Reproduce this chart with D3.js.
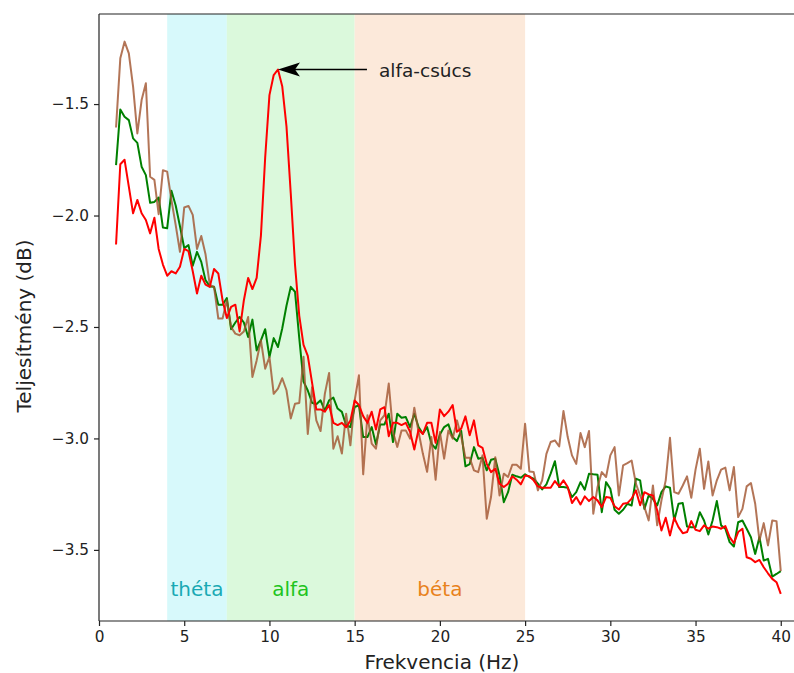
<!DOCTYPE html>
<html>
<head>
<meta charset="utf-8">
<script src="https://cdn.jsdelivr.net/npm/d3@7"></script>
<style>
  body { margin: 0; background: #fff; }
  svg { display: block; font-family: "DejaVu Sans", sans-serif; }
</style>
</head>
<body>
<svg width="794" height="673"></svg>
<script>
// frequency grid (Hz)
var freqs = [
  1,1.25,1.5,1.75,2,2.25,2.5,2.75, 3,3.25,3.5,3.75,4,4.25,4.5,4.75,
  5,5.25,5.5,5.75,6,6.25,6.5,6.75, 7,7.25,7.5,7.75,8,8.25,8.5,8.75,
  9,9.25,9.5,9.75,10,10.25,10.5,10.75, 11,11.25,11.5,11.75,12,12.25,12.5,12.75,
  13,13.25,13.5,13.75,14,14.25,14.5,14.75, 15,15.25,15.5,15.75,16,16.25,16.5,16.75,
  17,17.25,17.5,17.75,18,18.25,18.5,18.75, 19,19.25,19.5,19.75,20,20.25,20.5,20.75,
  21,21.25,21.5,21.75,22,22.25,22.5,22.75, 23,23.25,23.5,23.75,24,24.25,24.5,24.75,
  25,25.25,25.5,25.75,26,26.25,26.5,26.75, 27,27.25,27.5,27.75,28,28.25,28.5,28.75,
  29,29.25,29.5,29.75,30,30.25,30.5,30.75, 31,31.25,31.5,31.75,32,32.25,32.5,32.75,
  33,33.25,33.5,33.75,34,34.25,34.5,34.75, 35,35.25,35.5,35.75,36,36.25,36.5,36.75,
  37,37.25,37.5,37.75,38,38.25,38.5,38.75, 39,39.25,39.5,39.75,40
];

var redVals = [
  -2.13,-1.77,-1.75,-1.87,-1.99,-1.93,-1.99,-2.02,
  -2.08,-2.01,-2.15,-2.22,-2.27,-2.25,-2.26,-2.23,
  -2.15,-2.16,-2.25,-2.35,-2.27,-2.31,-2.32,-2.24,
  -2.26,-2.38,-2.46,-2.41,-2.40,-2.52,-2.38,-2.28,
  -2.33,-2.28,-2.09,-1.74,-1.46,-1.37,-1.345,-1.42,
  -1.60,-1.90,-2.22,-2.45,-2.58,-2.63,-2.75,-2.87,
  -2.87,-2.88,-2.85,-2.93,-2.94,-2.93,-2.95,-2.92,
  -2.83,-2.85,-2.90,-2.93,-2.88,-2.96,-2.87,-2.86,
  -2.99,-2.93,-2.93,-2.94,-2.93,-2.97,-3.05,-2.96,
  -2.98,-2.93,-2.93,-3.02,-2.87,-2.90,-2.88,-2.85,
  -2.97,-2.956,-2.901,-2.986,-2.919,-3.031,-3.042,-3.114,
  -3.151,-3.136,-3.203,-3.218,-3.203,-3.17,-3.185,-3.206,
  -3.166,-3.17,-3.188,-3.215,-3.221,-3.221,-3.221,-3.191,
  -3.215,-3.188,-3.218,-3.29,-3.263,-3.296,-3.26,-3.281,
  -3.263,-3.278,-3.308,-3.263,-3.266,-3.304,-3.319,-3.293,
  -3.29,-3.27,-3.233,-3.30,-3.241,-3.251,-3.256,-3.323,
  -3.413,-3.356,-3.435,-3.356,-3.398,-3.425,-3.42,-3.371,
  -3.41,-3.416,-3.39,-3.405,-3.395,-3.398,-3.405,-3.393,
  -3.443,-3.47,-3.42,-3.405,-3.533,-3.54,-3.555,-3.545,
  -3.578,-3.605,-3.63,-3.645,-3.697
];

var greenVals = [
  -1.774,-1.524,-1.557,-1.572,-1.654,-1.674,-1.781,-1.819,
  -1.943,-1.939,-1.919,-2.054,-2.057,-1.889,-1.955,-2.048,
  -2.146,-2.133,-2.225,-2.163,-2.208,-2.29,-2.318,-2.32,
  -2.40,-2.40,-2.37,-2.51,-2.48,-2.455,-2.48,-2.545,
  -2.467,-2.605,-2.56,-2.51,-2.635,-2.55,-2.59,-2.507,
  -2.405,-2.32,-2.342,-2.55,-2.745,-2.785,-2.84,-2.847,
  -2.829,-2.875,-2.829,-2.817,-2.866,-2.881,-2.941,-2.949,
  -2.859,-2.851,-2.994,-2.994,-2.949,-3.027,-2.937,-2.937,
  -2.889,-3.016,-2.889,-2.907,-2.904,-2.949,-2.889,-2.949,
  -2.979,-2.949,-3.023,-3.046,-2.982,-2.949,-2.937,-2.994,
  -3.012,-2.966,-3.125,-3.115,-3.039,-3.091,-3.087,-3.143,
  -3.096,-3.091,-3.166,-3.286,-3.241,-3.163,-3.17,-3.176,
  -3.161,-3.173,-3.181,-3.203,-3.229,-3.206,-3.158,-3.102,
  -3.218,-3.218,-3.221,-3.263,-3.241,-3.196,-3.23,-3.158,
  -3.161,-3.163,-3.331,-3.196,-3.226,-3.32,-3.338,-3.32,
  -3.293,-3.301,-3.181,-3.188,-3.316,-3.256,-3.271,-3.301,
  -3.241,-3.215,-3.221,-3.368,-3.293,-3.29,-3.395,-3.398,
  -3.398,-3.331,-3.368,-3.431,-3.368,-3.281,-3.39,-3.405,
  -3.465,-3.485,-3.376,-3.368,-3.405,-3.443,-3.518,-3.443,
  -3.548,-3.54,-3.62,-3.608,-3.595
];

var brownVals = [
  -1.605,-1.295,-1.22,-1.273,-1.422,-1.632,-1.482,-1.407,
  -1.826,-1.84,-1.994,-1.797,-1.803,-1.931,-2.043,-2.163,
  -1.964,-1.957,-1.997,-2.15,-2.092,-2.174,-2.311,-2.32,
  -2.462,-2.462,-2.38,-2.50,-2.53,-2.537,-2.52,-2.455,
  -2.724,-2.65,-2.56,-2.687,-2.635,-2.80,-2.777,-2.73,
  -2.784,-2.91,-2.844,-2.841,-2.634,-2.98,-2.77,-2.919,
  -2.967,-2.80,-2.706,-3.046,-2.99,-3.068,-2.889,-3.031,
  -2.829,-2.717,-3.161,-2.896,-3.023,-3.046,-2.919,-2.896,
  -2.754,-2.971,-3.038,-2.964,-2.964,-3.001,-2.862,-2.971,
  -3.068,-3.15,-2.994,-3.185,-2.971,-3.091,-2.964,-3.001,
  -2.919,-2.99,-3.087,-3.087,-3.143,-3.151,-3.076,-3.36,
  -3.263,-3.084,-3.256,-3.158,-3.173,-3.118,-3.118,-3.136,
  -2.934,-3.148,-3.151,-3.233,-3.188,-3.069,-3.016,-3.009,
  -3.036,-2.877,-2.994,-3.076,-3.114,-2.976,-3.039,-2.967,
  -3.338,-3.218,-3.151,-3.173,-3.076,-3.039,-3.256,-3.121,
  -3.111,-3.099,-3.203,-3.256,-3.308,-3.368,-3.211,-3.39,
  -3.278,-3.188,-2.997,-3.241,-3.248,-3.211,-3.17,-3.266,
  -3.14,-3.046,-3.226,-3.103,-3.256,-3.188,-3.14,-3.131,
  -3.233,-3.128,-3.353,-3.316,-3.215,-3.2,-3.293,-3.458,
  -3.38,-3.48,-3.368,-3.371,-3.595
];

// frequency bands
var bandNames = ["théta", "alfa", "béta"];
var bandStart = [4, 7.5, 15];
var bandEnd = [7.5, 15, 25];

var xTicks = [0, 5, 10, 15, 20, 25, 30, 35, 40];
var yTicks = [-3.5, -3.0, -2.5, -2.0, -1.5];

var peakFreq = 10.5, peakVal = -1.345;

var svg = d3.select("svg");
var plotL = 99, plotT = 14, plotB = 621, plotR = 814;

var x = d3.scaleLinear().domain([0, 41.95]).range([plotL, plotR]);
var y = d3.scaleLinear().domain([-3.819, -1.096]).range([plotB, plotT]);

var bandFill = ["#d7f9fb", "#dbf9dc", "#fce9da"];
var bandText = ["#19a9b4", "#20c420", "#e8821c"];

// shaded bands
svg.selectAll("rect.band")
    .data(bandNames)
    .enter()
  .append("rect")
    .attr("class", "band")
    .attr("x", function(d, i) { return x(bandStart[i]); })
    .attr("y", plotT)
    .attr("width", function(d, i) { return x(bandEnd[i]) - x(bandStart[i]); })
    .attr("height", plotB - plotT)
    .style("fill", function(d, i) { return bandFill[i]; });

svg.selectAll("text.bandlabel")
    .data(bandNames)
    .enter()
  .append("text")
    .attr("class", "bandlabel")
    .attr("x", function(d, i) { return x((bandStart[i] + bandEnd[i]) / 2); })
    .attr("y", y(-3.7) + 2)
    .attr("text-anchor", "middle")
    .style("font-size", "20px")
    .style("fill", function(d, i) { return bandText[i]; })
    .text(function(d) { return d; });

// spectra
var series = [
  { vals: greenVals, color: "#008000", op: 1 },
  { vals: brownVals, color: "#a0522d", op: 0.8 },
  { vals: redVals, color: "#ff0000", op: 1 }
];

var line = d3.line()
    .x(function(d) { return x(d[0]); })
    .y(function(d) { return y(d[1]); });

series.forEach(function(s) {
  svg.append("path")
      .datum(freqs.map(function(f, i) { return [f, s.vals[i]]; }))
      .attr("d", line)
      .style("fill", "none")
      .style("stroke", s.color)
      .style("stroke-opacity", s.op)
      .style("stroke-width", 2)
      .style("stroke-linejoin", "round");
});

// axes
var xAxis = svg.append("g")
    .attr("transform", "translate(0," + plotB + ")")
    .call(d3.axisBottom(x).tickValues(xTicks).tickSize(5).tickPadding(5)
      .tickFormat(d3.format("d")));
var yAxis = svg.append("g")
    .attr("transform", "translate(" + plotL + ",0)")
    .call(d3.axisLeft(y).tickValues(yTicks).tickSize(5).tickPadding(5)
      .tickFormat(function(d) { return d3.format(".1f")(d).replace("-", "\u2212"); }));

[xAxis, yAxis].forEach(function(g) {
  g.select(".domain").remove();
  g.selectAll(".tick line").style("stroke", "#222").style("stroke-width", 1.2);
  g.selectAll(".tick text")
    .style("font-family", "DejaVu Sans")
    .style("font-size", "15.3px")
    .style("fill", "#222");
});

// spines
svg.append("line").attr("x1", plotL).attr("x2", plotL).attr("y1", plotT).attr("y2", plotB)
  .style("stroke", "#222").style("stroke-width", 1.2);
svg.append("line").attr("x1", plotL).attr("x2", plotR).attr("y1", plotB).attr("y2", plotB)
  .style("stroke", "#222").style("stroke-width", 1.2);
svg.append("line").attr("x1", plotL).attr("x2", plotR).attr("y1", plotT).attr("y2", plotT)
  .style("stroke", "#222").style("stroke-width", 1.2);

svg.append("text")
    .attr("x", 442)
    .attr("y", 669)
    .attr("text-anchor", "middle")
    .style("font-size", "20px")
    .style("fill", "#222")
    .text("Frekvencia (Hz)");

svg.append("text")
    .attr("transform", "translate(31,326) rotate(-90)")
    .attr("text-anchor", "middle")
    .style("font-size", "20px")
    .style("fill", "#222")
    .text("Teljesítmény (dB)");

// annotation
var tipX = x(peakFreq), tipY = y(peakVal);
svg.append("line")
    .attr("x1", tipX + 16).attr("y1", tipY)
    .attr("x2", tipX + 89).attr("y2", tipY)
    .style("stroke", "#000").style("stroke-width", 1.6);
svg.append("path")
    .attr("d", "M" + tipX + "," + tipY + " L" + (tipX + 22) + "," + (tipY - 7) +
      " L" + (tipX + 17) + "," + tipY + " L" + (tipX + 22) + "," + (tipY + 7) + "Z")
    .style("fill", "#000");
svg.append("text")
    .attr("x", tipX + 101)
    .attr("y", tipY + 7)
    .style("font-size", "18.5px")
    .style("fill", "#222")
    .text("alfa-csúcs");
</script>
</body>
</html>
